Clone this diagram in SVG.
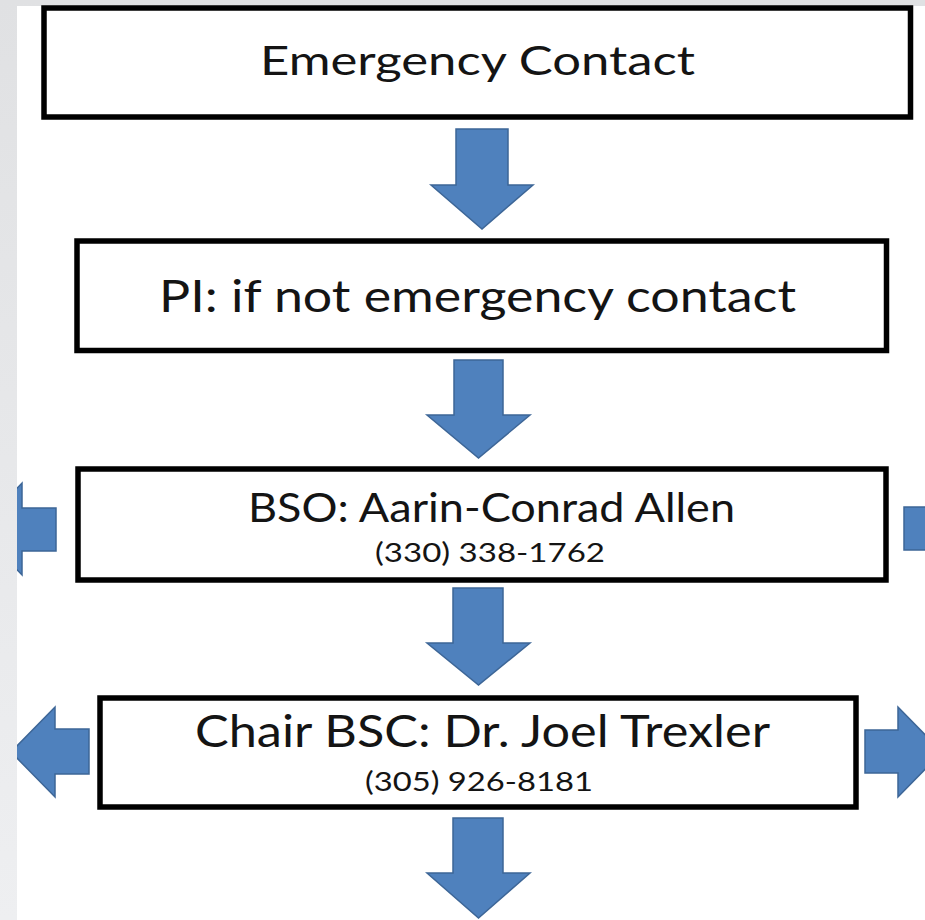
<svg xmlns="http://www.w3.org/2000/svg" width="925" height="920" viewBox="0 0 925 920">
  <defs>
    <linearGradient id="bg" x1="0" y1="0" x2="0" y2="1">
      <stop offset="0" stop-color="#e0e1e3"/>
      <stop offset="1" stop-color="#eeeff1"/>
    </linearGradient>
    <clipPath id="slide">
      <rect x="17" y="6" width="908" height="914"/>
    </clipPath>
    <style>
      .box { fill: #ffffff; stroke: #000000; stroke-width: 5.5; }
      .arrow { fill: #4f81bd; stroke: #3d6697; stroke-width: 1.5; stroke-linejoin: miter; }
      .t { font-family: Lato, "Open Sans", "Liberation Sans", sans-serif; fill: #141414; text-anchor: middle; }
      .big { font-size: 40px; }
      .bigger { font-size: 44px; }
      .phone { font-size: 27.5px; }
    </style>
  </defs>

  <rect x="0" y="0" width="925" height="920" fill="url(#bg)"/>
  <rect x="17" y="6" width="908" height="914" fill="#ffffff"/>

  <g id="connectors" clip-path="url(#slide)">
    <path class="arrow" d="M456,129 H508 V185 H533 L482,229 L431,185 H456 Z"/>
    <path class="arrow" d="M454,360 H503 V415 H530 L478.5,458 L427,415 H454 Z"/>
    <path class="arrow" d="M453,588 H503 V643 H530 L478.5,685 L427,643 H453 Z"/>
    <path class="arrow" d="M453,818 H503 V873 H530 L478.5,918 L427,873 H453 Z"/>
    <path class="arrow" d="M56,508 V551 H22 V575 L-22,529 L22,483 V508 Z"/>
    <path class="arrow" d="M904,507 H950 V483 L994,529 L950,575 V550 H904 Z"/>
    <path class="arrow" d="M89,729 V774 H55 V797 L11,752 L55,707 V729 Z"/>
    <path class="arrow" d="M865,730 H898 V707 L942,752 L898,797 V773 H865 Z"/>
  </g>

  <g id="node-emergency-contact">
    <rect class="box" x="44" y="8" width="866.5" height="109"/>
    <text class="t big" x="477.5" y="75" textLength="435" lengthAdjust="spacingAndGlyphs">Emergency Contact</text>
  </g>

  <g id="node-pi">
    <rect class="box" x="77" y="241" width="809.5" height="109.5"/>
    <text class="t bigger" x="477.5" y="312" textLength="637" lengthAdjust="spacingAndGlyphs">PI: if not emergency contact</text>
  </g>

  <g id="node-bso">
    <rect class="box" x="78" y="469" width="808" height="111"/>
    <text class="t big" x="491.5" y="522" textLength="487" lengthAdjust="spacingAndGlyphs">BSO: Aarin-Conrad Allen</text>
    <text class="t phone" x="490" y="562" textLength="230" lengthAdjust="spacingAndGlyphs">(330) 338-1762</text>
  </g>

  <g id="node-chair-bsc">
    <rect class="box" x="100" y="698" width="756" height="109"/>
    <text class="t bigger" x="482.5" y="747" textLength="575" lengthAdjust="spacingAndGlyphs">Chair BSC: Dr. Joel Trexler</text>
    <text class="t phone" x="479" y="791" textLength="228" lengthAdjust="spacingAndGlyphs">(305) 926-8181</text>
  </g>
</svg>
